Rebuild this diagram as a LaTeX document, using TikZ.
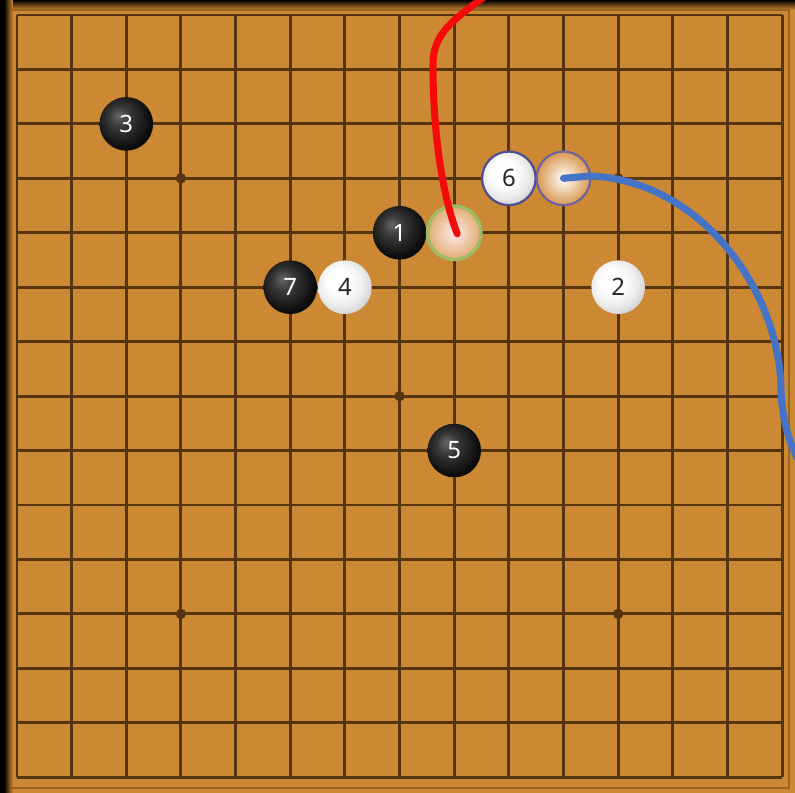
\documentclass[tikz,border=0pt]{standalone}
\usepackage{fontspec}
\setsansfont{Noto Sans}
\usepackage{tikz}
\usetikzlibrary{calc,positioning,shadings}
\definecolor{boardwood}{HTML}{CC8833}
\definecolor{boardline}{HTML}{553410}
\definecolor{boardedge}{HTML}{9A6424}
\definecolor{markgreen}{HTML}{8DB04A}
\definecolor{markpurple}{HTML}{6E62A6}
\definecolor{ringnavy}{HTML}{4E4E92}
\definecolor{stonetan}{HTML}{D8984F}
\definecolor{pathred}{HTML}{F50A0A}
\definecolor{pathblue}{HTML}{4574C6}
\pgfdeclareradialshading{whiteshell}{\pgfpoint{-7bp}{7bp}}{%
  color(0bp)=(white); color(11bp)=(white); color(22bp)=(black!8); color(32bp)=(black!22); color(50bp)=(black!30)}
\pgfdeclareradialshading{blackshell}{\pgfpoint{-8bp}{8bp}}{%
  color(0bp)=(black!60); color(10bp)=(black!78); color(26bp)=(black!95); color(50bp)=(black)}

\begin{document}
\begin{tikzpicture}[
  x=0.025cm, y=-0.025cm,
  gridline/.style={boardline, line width=2.1pt},
  starpoint/.style={circle, fill=boardline, inner sep=0pt, minimum size=0.26cm},
  stone/.style={circle, inner sep=0pt, minimum size=1.34cm, font=\sffamily\fontsize{17}{20}\selectfont},
  blackstone/.style={stone, shading=blackshell, text=white},
  whitestone/.style={stone, shading=whiteshell, text=black!85},
  lastmove/.style={stone, shading=radial, inner color=white!92!red, outer color=stonetan!80!white, draw=markgreen!85, line width=2.4pt},
  nextmove/.style={stone, shading=radial, inner color=white, outer color=stonetan, draw=markpurple, line width=1.5pt},
  ringstone/.style={whitestone, draw=ringnavy, line width=1.6pt},
  trail/.style={line width=5pt, line cap=round}
]
  % board and frame
  \useasboundingbox (0,0) rectangle (795,793);
  \fill[black] (0,0) rectangle (795,793);
  \fill[boardwood] (7,6) rectangle (795,793);
  \shade[left color=black, right color=boardwood] (4,0) rectangle (13,793);
  \shade[top color=black, bottom color=boardwood] (13,0) rectangle (795,10);
  \draw[boardedge, line width=1.4pt] (11,10) rectangle (789,788);

  \begin{scope}[shift={(17,15)}, x=1.366cm, y=-1.36075cm]
    \foreach \i in {0,...,14} {
      \draw[gridline] (\i,0) -- (\i,14);
      \draw[gridline] (0,\i) -- (14,\i);
    }
    \foreach \c/\r in {3/3, 11/3, 7/7, 3/11, 11/11}
      \node[starpoint] at (\c,\r) {};

    \node[blackstone] (b3) at (2,2) {3};
    \node[blackstone] (b1) at (7,4) {1};
    \node[lastmove]   (mark) at (8,4) {};
    \node[ringstone]  (w6) at (9,3) {6};
    \node[nextmove]   (cand) at (10,3) {};
    \node[blackstone] (b7) at (5,5) {7};
    \node[whitestone] (w4) at (6,5) {4};
    \node[whitestone] (w2) at (11,5) {2};
    \node[blackstone] (b5) at (8,8) {5};
  \end{scope}

  % strokes over the board
  \coordinate (redtop) at (484,-3);
  \coordinate (blueend) at (797,458);
  \draw[trail, pathred] (redtop) .. controls (450,22) and (433,35) .. (433,65)
    .. controls (433,140) and (444,200) .. ($(mark.center)+(3,1)$);
  \draw[trail, pathblue] (cand.center) -- (590,176)
    .. controls (700,180) and (780,290) .. (781,390)
    .. controls (782,420) and (789,440) .. (blueend);
\end{tikzpicture}
\end{document}
